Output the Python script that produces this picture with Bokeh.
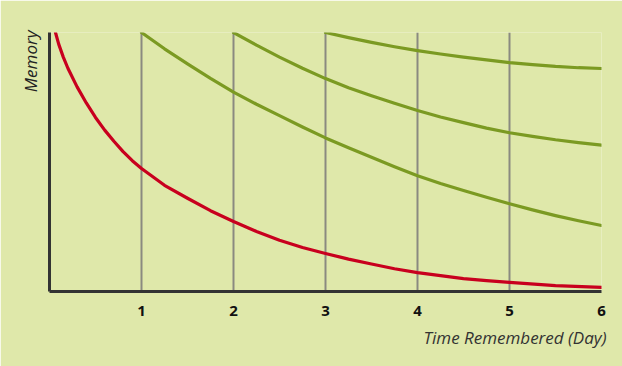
from bokeh.plotting import figure
from bokeh.models import FixedTicker, Range1d, Title
from bokeh.embed import file_html
from bokeh.resources import INLINE

# ---- data ----
days = [1, 2, 3, 4, 5, 6]
day_labels = {1: "1", 2: "2", 3: "3", 4: "4", 5: "5", 6: "6"}

# forgetting curve without review
red_x = [0.065, 0.1, 0.15, 0.2, 0.3, 0.4, 0.5, 0.6, 0.7, 0.8, 0.9, 1.0,
         1.25, 1.5, 1.75, 2.0, 2.25, 2.5, 2.75, 3.0, 3.25, 3.5, 3.75, 4.0,
         4.25, 4.5, 4.75, 5.0, 5.5, 6.0]
red_y = [1.0, 0.955, 0.905, 0.862, 0.79, 0.728, 0.672, 0.623, 0.58, 0.54, 0.505, 0.475,
         0.41, 0.36, 0.312, 0.27, 0.232, 0.198, 0.17, 0.147, 0.125, 0.106, 0.088, 0.073,
         0.061, 0.05, 0.042, 0.035, 0.023, 0.016]

# curves after review on day 1, 2 and 3
rev1_x = [1.0, 1.25, 1.5, 1.75, 2.0, 2.25, 2.5, 2.75, 3.0, 3.25, 3.5, 3.75, 4.0,
          4.25, 4.5, 4.75, 5.0, 5.25, 5.5, 5.75, 6.0]
rev1_y = [1.0, 0.937, 0.879, 0.823, 0.77, 0.723, 0.679, 0.635, 0.593, 0.555, 0.518, 0.482, 0.447,
          0.417, 0.39, 0.364, 0.339, 0.315, 0.293, 0.273, 0.255]

rev2_x = [2.0, 2.25, 2.5, 2.75, 3.0, 3.25, 3.5, 3.75, 4.0, 4.25, 4.5, 4.75, 5.0,
          5.25, 5.5, 5.75, 6.0]
rev2_y = [1.0, 0.951, 0.905, 0.862, 0.822, 0.787, 0.756, 0.727, 0.699, 0.674, 0.652, 0.631, 0.613,
          0.599, 0.586, 0.575, 0.565]

rev3_x = [3.0, 3.25, 3.5, 3.75, 4.0, 4.25, 4.5, 4.75, 5.0, 5.25, 5.5, 5.75, 6.0]
rev3_y = [1.0, 0.98, 0.962, 0.945, 0.93, 0.917, 0.905, 0.894, 0.884, 0.876, 0.869, 0.864, 0.861]

x_title = "Time Remembered (Day)"
y_title = "Memory"

BG = "#dfe8aa"
RED = "#c8001e"
GREEN = "#7b9a22"
GRID = "#8a8a80"
AXIS = "#333333"

p = figure(width=622, height=366, output_backend="svg", toolbar_location=None,
           x_range=Range1d(0, 6), y_range=Range1d(0, 1),
           min_border_left=49, min_border_right=21,
           min_border_top=32, min_border_bottom=75)

p.background_fill_color = BG
p.border_fill_color = BG
p.outline_line_color = None

# axes
p.xaxis.ticker = FixedTicker(ticks=days)
p.xaxis.major_label_overrides = day_labels
p.xaxis.major_tick_line_color = None
p.xaxis.minor_tick_line_color = None
p.xaxis.axis_line_color = AXIS
p.xaxis.axis_line_width = 3
p.xaxis.major_label_text_font = "Open Sans"
p.xaxis.major_label_text_font_style = "bold"
p.xaxis.major_label_text_font_size = "15px"
p.xaxis.major_label_text_color = "#111111"
p.xaxis.major_label_standoff = 8

p.yaxis.ticker = FixedTicker(ticks=[])
p.yaxis.major_tick_line_color = None
p.yaxis.minor_tick_line_color = None
p.yaxis.major_label_text_font_size = "0px"
p.yaxis.axis_line_color = AXIS
p.yaxis.axis_line_width = 3

# grid
p.xgrid.ticker = FixedTicker(ticks=days)
p.xgrid.grid_line_color = GRID
p.xgrid.grid_line_width = 2
p.ygrid.grid_line_color = None

# curves
for xs, ys in [(rev1_x, rev1_y), (rev2_x, rev2_y), (rev3_x, rev3_y)]:
    p.line(xs, ys, line_color=GREEN, line_width=3.2, line_cap="round", line_join="round")
p.line(red_x, red_y, line_color=RED, line_width=3.2, line_cap="round", line_join="round")

# axis titles
p.add_layout(Title(text=x_title, align="right", text_font="Open Sans",
                   text_font_style="italic", text_font_size="17px",
                   text_color="#333333", standoff=10, offset=-5), "below")
p.add_layout(Title(text=y_title, align="right", text_font="Open Sans",
                   text_font_style="italic", text_font_size="17px",
                   text_color="#222222", standoff=16, offset=-2), "left")

open("out.html", "w").write(file_html(p, INLINE))
